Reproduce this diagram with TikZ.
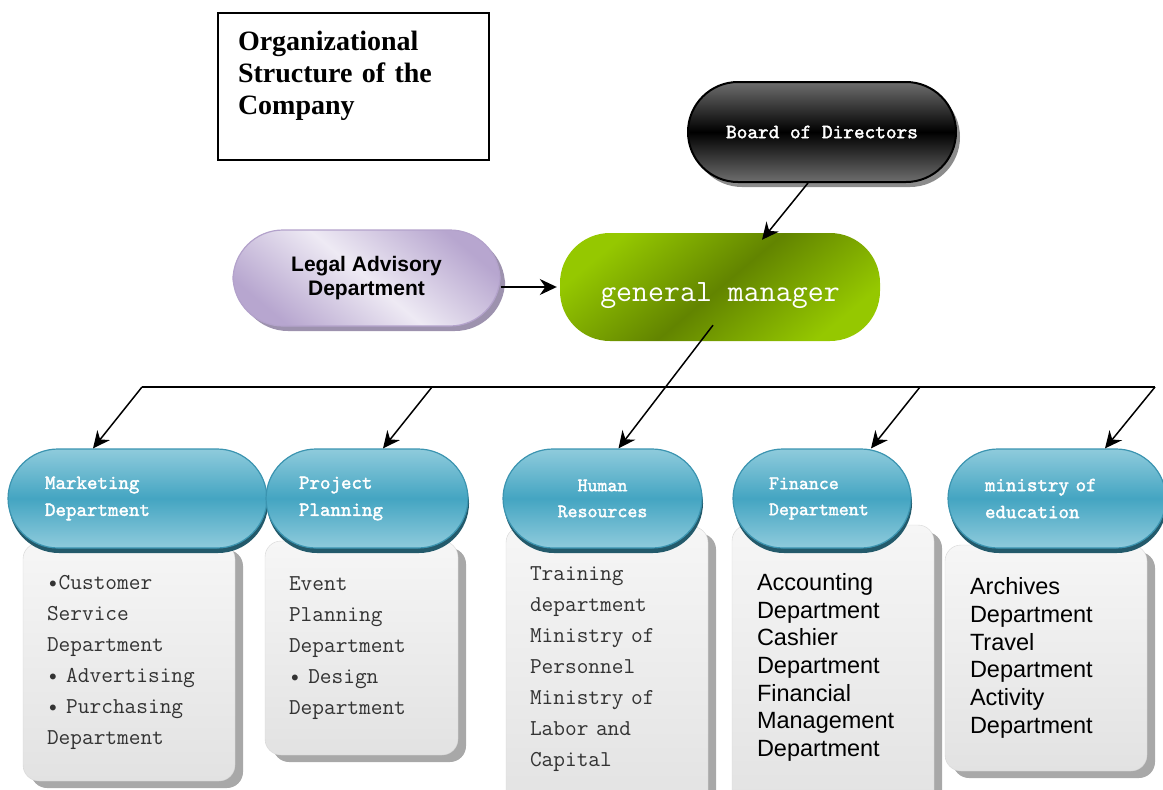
\documentclass[tikz,border=0pt]{standalone}
\usepackage{fontspec}
\setmainfont{Liberation Serif}
\setsansfont{Liberation Sans}
\newfontfamily\deptmono{lmmono10-regular.otf}[FakeBold=1.8]
\usepackage{xcolor}
\usetikzlibrary{shapes.geometric, arrows.meta, positioning, calc, shadows}

\definecolor{tealtop}{HTML}{8FCBDC}
\definecolor{tealmid}{HTML}{44A5C2}
\definecolor{tealedge}{HTML}{3B94B0}
\definecolor{tealdark}{HTML}{235A6B}
\definecolor{boardgray}{HTML}{6E6E6E}
\definecolor{greenlight}{HTML}{95C800}
\definecolor{greendark}{HTML}{628400}
\definecolor{lavlight}{HTML}{EEEAF4}
\definecolor{lavdark}{HTML}{B7A6CF}
\definecolor{lavedge}{HTML}{B3A2CB}
\definecolor{lavshadow}{HTML}{9D92AE}
\definecolor{boxtop}{HTML}{F6F6F6}
\definecolor{boxbottom}{HTML}{E2E2E2}
\definecolor{boxline}{HTML}{D6D6D6}
\definecolor{boxshadow}{HTML}{A8A8A8}

\begin{document}
\begin{tikzpicture}[
    x=1pt, y=-1pt,
    pill/.style={rectangle, rounded corners=50pt, inner sep=0pt},
    dept/.style={pill, minimum height=99pt, draw=tealedge, line width=1.2pt, top color=tealtop, bottom color=tealtop, middle color=tealmid, text=white, font=\fontsize{20}{27}\selectfont\deptmono, drop shadow={shadow xshift=1pt, shadow yshift=-5pt, fill=tealdark, opacity=1}},
    listbox/.style={rectangle, rounded corners=16pt, inner sep=0pt, draw=boxline, top color=boxtop, bottom color=boxbottom, align=left, drop shadow={shadow xshift=8pt, shadow yshift=-7pt, fill=boxshadow, opacity=1}},
    monolist/.style={listbox, text=black!80, font=\fontsize{22.7}{31}\selectfont\ttfamily},
    sanslist/.style={listbox, text=black, font=\fontsize{23.5}{27.7}\selectfont\sffamily},
    arrow/.style={line width=1.5pt, -{Stealth[length=17pt, width=16pt]}}
]
    \useasboundingbox (0,0) rectangle (1163,790);

    \node (title) [draw, line width=1.8pt, minimum width=271pt, minimum height=147pt, text width=231pt, inner sep=0pt, align=left, text depth=91pt, font=\fontsize{28}{32}\selectfont\bfseries] at (353.5,86.5) {Organizational\\Structure of the\\Company};

    \node (board) [pill, minimum width=268pt, minimum height=100pt, draw=black, line width=2pt, top color=boardgray, bottom color=boardgray, middle color=black, text=white, font=\fontsize{20.3}{22}\selectfont\deptmono, drop shadow={shadow xshift=4pt, shadow yshift=-5pt, fill=black!45, opacity=1}] at (822,132) {Board of Directors};
    \node (gm) [pill, minimum width=320pt, minimum height=108pt, top color=greenlight, bottom color=greenlight, middle color=greendark, shading angle=40, text=white, text height=36pt, text depth=7pt, font=\fontsize{31}{32}\selectfont\ttfamily] at (720,287) {general manager};
    \node (legal) [pill, minimum width=267pt, minimum height=96pt, draw=lavedge, line width=1.2pt, top color=lavdark, bottom color=lavdark, middle color=lavlight, shading angle=-40, align=center, font=\fontsize{21}{24}\selectfont\sffamily\bfseries, drop shadow={shadow xshift=5pt, shadow yshift=-5pt, fill=lavshadow, opacity=1}] at (366.5,278) {Legal Advisory\\Department};

    \node (marketList) [monolist, minimum width=212pt, minimum height=238pt, text width=164pt] at (129,662) {•Customer\\Service\\Department\\• Advertising\\• Purchasing\\Department};
    \node (projectList) [monolist, minimum width=193pt, minimum height=214pt, text width=145pt] at (361.5,648) {Event\\Planning\\Department\\• Design\\Department};
    \node (hrList) [monolist, minimum width=202pt, minimum height=285pt, text width=154pt] at (607,669) {Training\\department\\Ministry of\\Personnel\\Ministry of\\Labor and\\Capital};
    \node (financeList) [sanslist, minimum width=202pt, minimum height=285pt, text width=152pt] at (833,667.5) {Accounting\\Department\\Cashier\\Department\\Financial\\Management\\Department};
    \node (ministryList) [sanslist, minimum width=202pt, minimum height=226pt, text width=152pt] at (1046,658) {Archives\\Department\\Travel\\Department\\Activity\\Department};

    \node (market) [dept, minimum width=259pt, text width=185pt, align=left] at (137.5,498.5) {Marketing\\Department};
    \node (project) [dept, minimum width=202pt, text width=136pt, align=left] at (367,498.5) {Project\\Planning};
    \node (hr) [dept, minimum width=199pt, align=center, font=\fontsize{19}{26}\selectfont\deptmono] at (602.5,498.5) {Human\\Resources};
    \node (finance) [dept, minimum width=178pt, text width=106pt, align=left, font=\fontsize{19}{26}\selectfont\deptmono] at (822,498.5) {Finance\\Department};
    \node (ministry) [dept, minimum width=218pt, text width=144pt, align=left] at (1057,498.5) {ministry of\\education};

    \coordinate (busL) at (142,387);
    \coordinate (busP) at (432,387);
    \coordinate (busF) at (920,387);
    \coordinate (busR) at (1155,387);

    \draw [arrow] (legal.east |- gm.west) -- ([xshift=-3pt]gm.west);
    \draw [arrow] ([xshift=-14pt]board.south) -- ([xshift=42pt,yshift=-7pt]gm.north);
    \draw [arrow] ([xshift=-7pt,yshift=16pt]gm.south) -- ([xshift=16pt]hr.north);
    \draw [line width=1.5pt] (busL) -- (busR);
    \draw [arrow] (busL) -- ([xshift=-44.5pt]market.north);
    \draw [arrow] (busP) -- ([xshift=16pt]project.north);
    \draw [arrow] (busF) -- ([xshift=49pt]finance.north);
    \draw [arrow] (busR) -- ([xshift=48pt]ministry.north);
\end{tikzpicture}
\end{document}
